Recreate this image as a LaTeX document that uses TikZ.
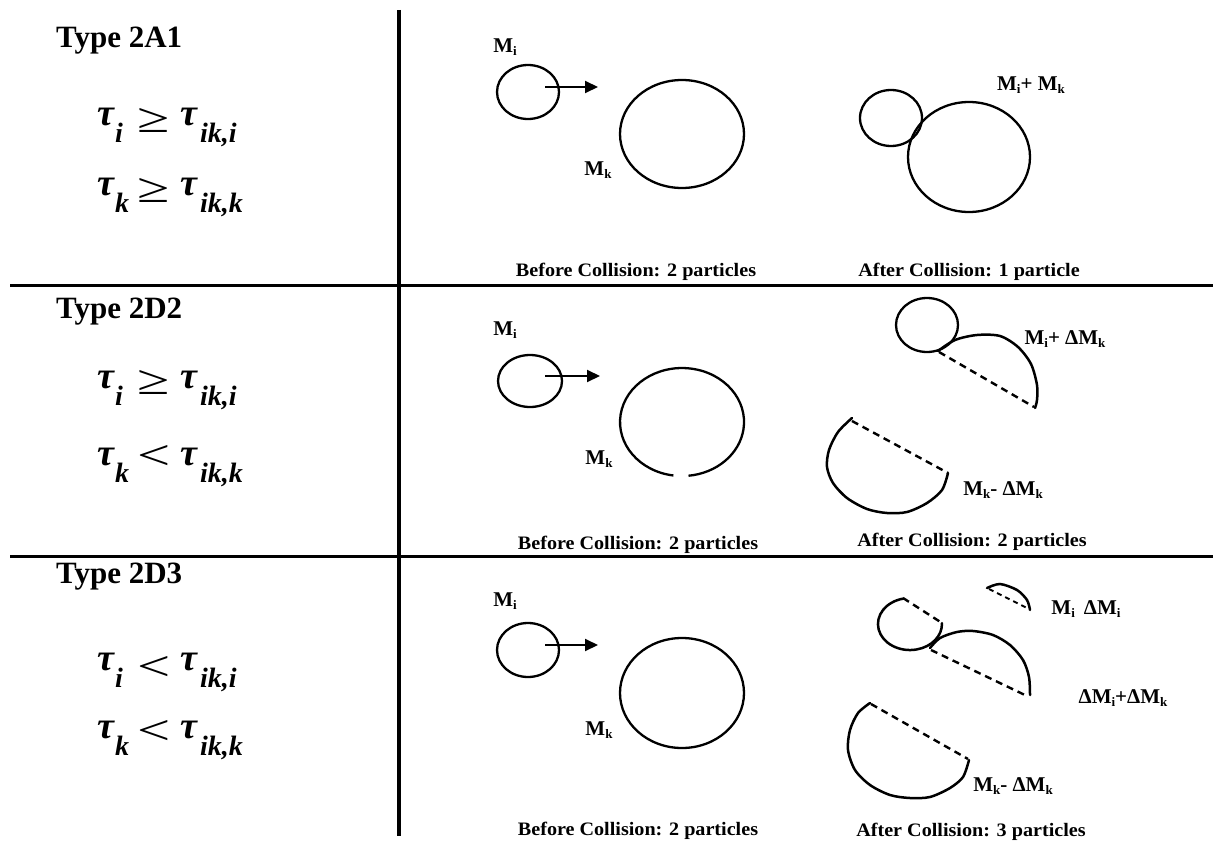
\documentclass[tikz,border=0pt]{standalone}
\usepackage{fontspec}
\setmainfont{Liberation Serif}
\usetikzlibrary{arrows.meta}

% small lowered index for mass labels
\newcommand\lo[1]{\raisebox{-0.3ex}{\fontsize{13}{13}\selectfont #1}}
% slightly widened caption text
\newcommand\wide[1]{\scalebox{1.06}[1]{#1}}
% one condition line: name, baseline, first index, relation, relation centre y, second index
\newcommand\condline[6]{%
  \node[tau] (#1t) at (97,#2) {τ};
  \node[tsub] (#1s) at (115,#2+17) {#3};
  \node[rel] (#1r) at (154,#5) {\scalebox{1.4}[1]{#4}};
  \node[tau] (#1u) at (180,#2) {τ};
  \node[tsub] (#1v) at (200,#2+17) {#6};
}

\begin{document}
\begin{tikzpicture}[x=1pt,y=-1pt,
  rule/.style={line width=3.6pt},
  hrule/.style={line width=3pt},
  ball/.style={line width=2.3pt},
  piece/.style={line width=2.5pt,line cap=round},
  cut/.style={line width=2.4pt,dash pattern=on 7pt off 5pt},
  faintcut/.style={line width=1.8pt,dash pattern=on 5pt off 4pt},
  motion/.style={line width=2pt,-{Triangle[length=13pt,width=12pt]}},
  typelabel/.style={font=\fontsize{31}{31}\selectfont\bfseries,anchor=base west,inner sep=0pt},
  tau/.style={font=\fontsize{38}{38}\selectfont\bfseries\itshape,anchor=base west,inner sep=0pt},
  tsub/.style={font=\fontsize{28}{28}\selectfont\bfseries\itshape,anchor=base west,inner sep=0pt},
  rel/.style={font=\fontsize{42}{42}\selectfont,inner sep=0pt},
  mass/.style={font=\fontsize{21}{21}\selectfont\bfseries,inner sep=0pt},
  caption/.style={font=\fontsize{19}{19}\selectfont\bfseries,inner sep=0pt}
]
\fill[white] (0,0) rectangle (1215,843);
\useasboundingbox (0,0) rectangle (1215,843);

% ---- table rules ----
\coordinate (vt) at (399,10);   \coordinate (vb) at (399,836);
\coordinate (h1l) at (10,285);  \coordinate (h1r) at (1213,285);
\coordinate (h2l) at (10,556);  \coordinate (h2r) at (1213,556);
\draw[rule] (vt) -- (vb);
\draw[hrule] (h1l) -- (h1r);
\draw[hrule] (h2l) -- (h2r);

% ---- left column: type and conditions ----
\node[typelabel] (type1) at (56,48) {Type 2A1};
\node[typelabel] (type2) at (56,318) {Type 2D2};
\node[typelabel] (type3) at (56,583) {Type 2D3};

\condline{ca}{125}{i}{≥}{120}{ik,i}
\condline{cb}{195}{k}{≥}{190}{ik,k}
\condline{cc}{388}{i}{≥}{382}{ik,i}
\condline{cd}{465}{k}{<}{457}{ik,k}
\condline{ce}{670}{i}{<}{668}{ik,i}
\condline{cf}{738}{k}{<}{732}{ik,k}

% ---- row 1: before collision ----
\draw[ball] (528,92) ellipse [x radius=31, y radius=27];
\draw[ball] (682,134) ellipse [x radius=62, y radius=54];
\coordinate (m1s) at (545,87); \coordinate (m1e) at (598,87);
\draw[motion] (m1s) -- (m1e);
\node[mass] (mi1) at (505,47) {M\lo{i}};
\node[mass] (mk1) at (598,170) {M\lo{k}};
\node[caption] (cap1b) at (636,272) {\wide{Before Collision: 2 particles}};

% ---- row 1: after collision ----
\draw[ball] (891,118) ellipse [x radius=31, y radius=28];
\draw[ball] (969,157) ellipse [x radius=61, y radius=55];
\node[mass] (mik1) at (1031,85) {M\lo{i}+ M\lo{k}};
\node[caption] (cap1a) at (969,272) {\wide{After Collision: 1 particle}};

% ---- row 2: before collision ----
\draw[ball] (530,381) ellipse [x radius=32, y radius=26];
\draw[ball] (673.4,475.5) arc [start angle=98, end angle=444, x radius=62, y radius=54];
\coordinate (m2s) at (545,376); \coordinate (m2e) at (600,376);
\draw[motion] (m2s) -- (m2e);
\node[mass] (mi2) at (505,330) {M\lo{i}};
\node[mass] (mk2) at (599,459) {M\lo{k}};
\node[caption] (cap2b) at (638,545) {\wide{Before Collision: 2 particles}};

% ---- row 2: after collision ----
\draw[ball] (927,325) ellipse [x radius=31, y radius=27];
\draw[piece] plot[smooth] coordinates {(938,351) (955,340) (977,335) (1000,336) (1018,347) (1031,364) (1037,385) (1037,400) (1035,408)};
\coordinate (c2a) at (939,352); \coordinate (c2b) at (1034,407);
\draw[cut] (c2a) -- (c2b);
\draw[piece] plot[smooth] coordinates {(852,418) (838,432) (829,450) (827,467) (833,483) (847,498) (867,509) (887,513) (907,512) (927,503) (942,490) (948,473)};
\coordinate (c2c) at (852,421); \coordinate (c2d) at (948,473);
\draw[cut] (c2c) -- (c2d);
\node[mass] (mik2) at (1065,339) {M\lo{i}+ ΔM\lo{k}};
\node[mass] (mkd2) at (1003,490) {M\lo{k}- ΔM\lo{k}};
\node[caption] (cap2a) at (972,542) {\wide{After Collision: 2 particles}};

% ---- row 3: before collision ----
\draw[ball] (528,650) ellipse [x radius=31, y radius=27];
\draw[ball] (682,693) ellipse [x radius=62, y radius=55];
\coordinate (m3s) at (545,645); \coordinate (m3e) at (598,645);
\draw[motion] (m3s) -- (m3e);
\node[mass] (mi3) at (505,601) {M\lo{i}};
\node[mass] (mk3) at (599,730) {M\lo{k}};
\node[caption] (cap3b) at (638,831) {\wide{Before Collision: 2 particles}};

% ---- row 3: after collision ----
% chipped-off cap of M_i
\draw[piece] plot[smooth] coordinates {(987,588) (1000,584) (1017,590) (1027,600) (1030,610)};
\coordinate (c3a) at (989,589); \coordinate (c3b) at (1029,609);
\draw[faintcut] (c3a) -- (c3b);
% remainder of M_i
\draw[piece] (903.3,598.6) arc [start angle=258, end angle=-2, x radius=32, y radius=26];
\coordinate (c3c) at (903,598); \coordinate (c3d) at (942,623);
\draw[cut] (c3c) -- (c3d);
% merged fragment
\draw[piece] plot[smooth] coordinates {(930,648) (940,638) (957,632) (973,631) (993,635) (1010,645) (1023,660) (1029,677) (1030,695)};
\coordinate (c3e) at (931,650); \coordinate (c3f) at (1027,696);
\draw[cut] (c3e) -- (c3f);
% remainder of M_k
\draw[piece] plot[smooth] coordinates {(870,703) (858,713) (850,730) (848,750) (855,770) (870,785) (890,795) (910,798) (930,797) (950,788) (963,777) (969,760)};
\coordinate (c3g) at (871,704); \coordinate (c3h) at (968,759);
\draw[cut] (c3g) -- (c3h);
\node[mass] (mid3) at (1086,609) {M\lo{i}\hspace{9pt}ΔM\lo{i}};
\node[mass] (dik3) at (1123,698) {ΔM\lo{i}+ΔM\lo{k}};
\node[mass] (mkd3) at (1013,786) {M\lo{k}- ΔM\lo{k}};
\node[caption] (cap3a) at (971,832) {\wide{After Collision: 3 particles}};
\end{tikzpicture}
\end{document}
